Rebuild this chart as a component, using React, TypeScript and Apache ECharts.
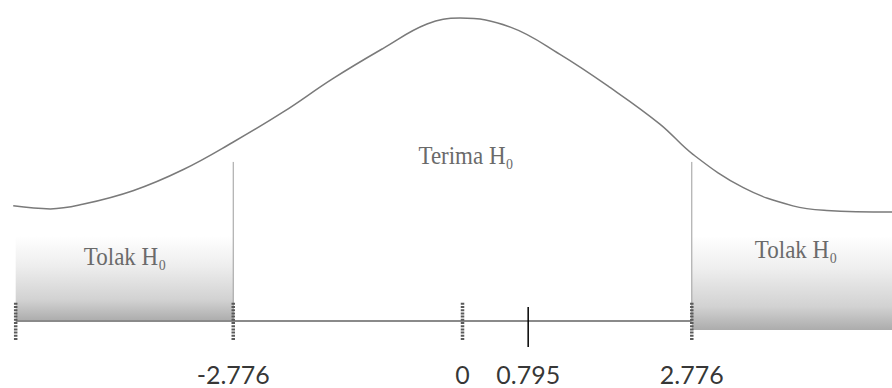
import React, { useEffect, useRef } from "react";
import * as echarts from "echarts";

// Critical value of t and the computed t statistic
const criticalT = 2.776;
const tHitung = 0.795;

// Positions on the t axis that carry a tick and those that carry a label
const axisStart = -5.41;
const tickValues = [axisStart, -criticalT, 0, criticalT];
const labelValues = [-criticalT, 0, tHitung, criticalT];

// Sketched bell curve (t, relative height with the peak at 100)
const curveT = [
  -5.44, -4.99, -4.6, -3.99, -3.38, -2.78, -2.17, -1.57, -0.96, -0.43, -0.03,
  0.58, 1.18, 1.79, 2.39, 2.79, 3.4, 4.0, 4.41, 5.21,
];
const curveH = [
  38, 37, 38.5, 43, 50, 59, 69, 80, 90, 98, 100, 97, 88, 77, 65, 55, 44, 38,
  36.5, 36,
];

// Region texts
const rejectText = "Tolak H\u2080";
const acceptText = "Terima H\u2080";

// Axis extents
const X_MIN = -5.6;
const X_MAX = 5.2;
const Y_MIN = -22.11;
const Y_MAX = 105.94;

const BAND_TOP = 28;
const CRIT_LINE_TOP = 52.5;
const LABEL_LEVEL = -17.5;

function segment(name: string, pts: number[][], color: string, width: number, type: any = "solid") {
  return {
    name,
    type: "line",
    data: pts,
    symbol: "none",
    silent: true,
    clip: false,
    z: 5,
    lineStyle: { color, width, type, cap: "butt" },
  };
}

export default function App() {
  const ref = useRef<HTMLDivElement>(null);

  useEffect(() => {
    if (!ref.current) return;
    const chart = echarts.init(ref.current, undefined, { renderer: "svg" });

    const bandGradient = new echarts.graphic.LinearGradient(0, 0, 0, 1, [
      { offset: 0, color: "#ffffff" },
      { offset: 0.35, color: "#eeeeee" },
      { offset: 0.75, color: "#d2d2d2" },
      { offset: 1, color: "#acacac" },
    ]);

    const serif = "'Liberation Serif', 'DejaVu Serif', serif";
    const regionLabel = (x: number, y: number, text: string) => ({
      type: "text",
      x,
      y,
      z: 100,
      zlevel: 1,
      scaleY: 1.1,
      style: {
        text,
        font: `23px ${serif}`,
        fill: "#6a6a6a",
        align: "center",
        verticalAlign: "middle",
      },
    });

    const series: any[] = [
      {
        name: "kurva",
        type: "line",
        data: curveT.map((t, i) => [t, curveH[i]]),
        smooth: 0.4,
        symbol: "none",
        silent: true,
        clip: false,
        z: 3,
        lineStyle: { color: "#7a7a7a", width: 1.5 },
        markArea: {
          silent: true,
          itemStyle: { color: bandGradient },
          data: [
            [{ coord: [axisStart, BAND_TOP] }, { coord: [-criticalT, 0] }],
            [{ coord: [criticalT, BAND_TOP] }, { coord: [X_MAX, -3] }],
          ],
        },
      },
      segment("batas kiri", [[-criticalT, 0], [-criticalT, CRIT_LINE_TOP]], "#9c9c9c", 1),
      segment("batas kanan", [[criticalT, 0], [criticalT, CRIT_LINE_TOP]], "#9c9c9c", 1),
      segment("sumbu", [[axisStart, 0], [criticalT, 0]], "#8a8a8a", 2),
      ...tickValues.map((t, i) =>
        segment("tick" + i, [[t, 6], [t, -6.5]], "#5a5a5a", 3.5, [2, 1.2])
      ),
      segment("t hitung", [[tHitung, 4.6], [tHitung, -8.6]], "#000000", 1.5),
      {
        name: "label nilai",
        type: "scatter",
        data: labelValues.map((v) => [v, LABEL_LEVEL]),
        symbolSize: 0,
        silent: true,
        clip: false,
        z: 6,
        label: {
          show: true,
          position: "inside",
          color: "#000000",
          fontFamily: "Lato, 'Open Sans', sans-serif",
          fontSize: 25,
          formatter: (p: any) => String(p.value[0]),
        },
      },
    ];

    chart.setOption({
      animation: false,
      grid: {
        left: 0,
        right: 0,
        top: 0,
        bottom: 0,
        containLabel: false,
        outerBoundsMode: "none",
      },
      xAxis: {
        type: "value",
        min: X_MIN,
        max: X_MAX,
        show: false,
        splitLine: { show: false },
      },
      yAxis: {
        type: "value",
        min: Y_MIN,
        max: Y_MAX,
        show: false,
        splitLine: { show: false },
      },
      graphic: [
        regionLabel(125, 256, rejectText),
        regionLabel(796, 249, rejectText),
        regionLabel(466, 155, acceptText),
      ],
      series,
    });

    return () => chart.dispose();
  }, []);

  return (
    <div
      ref={ref}
      style={{ position: "absolute", left: 0, top: 0, width: 892, height: 388 }}
    />
  );
}
